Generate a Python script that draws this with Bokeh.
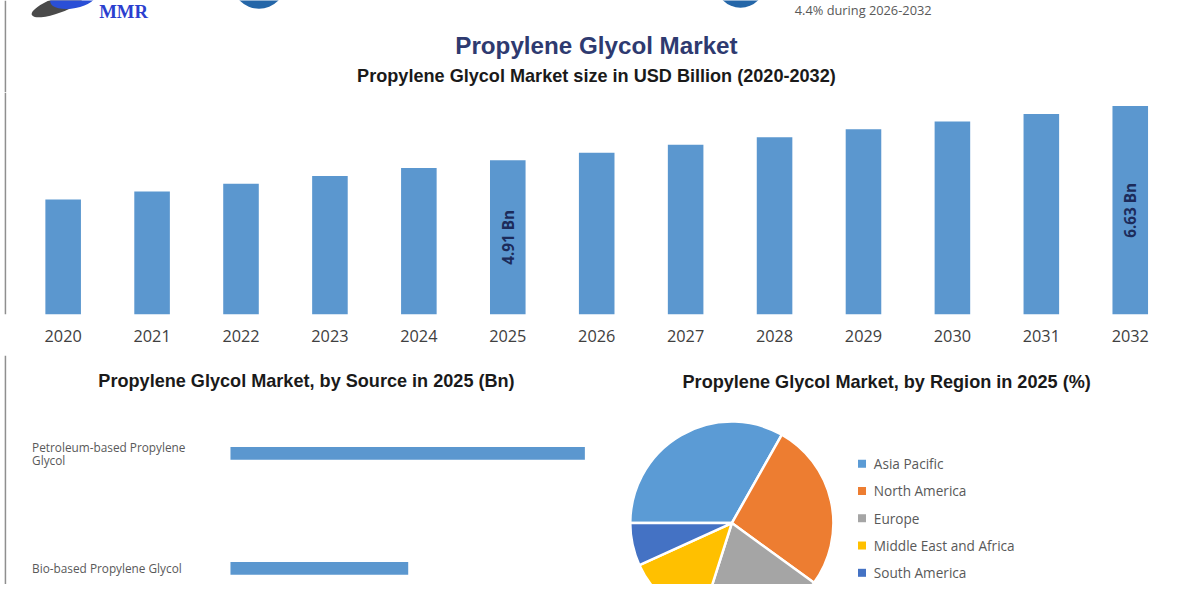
import math
from bokeh.plotting import figure
from bokeh.models import Range1d, FixedTicker, ColumnDataSource
from bokeh.layouts import column, row
from bokeh.core.properties import value
from bokeh.embed import file_html
from bokeh.resources import INLINE

# ---------------- data ----------------
years = ["2020", "2021", "2022", "2023", "2024", "2025", "2026",
         "2027", "2028", "2029", "2030", "2031", "2032"]
market_size = [3.66, 3.91, 4.16, 4.41, 4.66, 4.91, 5.15,
               5.40, 5.64, 5.89, 6.14, 6.38, 6.63]
bar_label_years = ["2025", "2032"]
bar_label_texts = ["4.91 Bn", "6.63 Bn"]

sources = ["Petroleum-based Propylene\nGlycol", "Bio-based Propylene Glycol"]
source_values = [3.27, 1.64]

regions = ["Asia Pacific", "North America", "Europe",
           "Middle East and Africa", "South America"]
region_share = [33.2, 26.8, 19.9, 13.3, 6.8]

# ---------------- styles ----------------
BLUE = "#5b97cf"
REGION_COLORS = ["#5b9bd5", "#ed7d31", "#a5a5a5", "#ffc000", "#4472c4"]
BORDER = "#8f8f8f"
W, H = 1184, 584
SX = W / 1200.0


def fs(px):
    return "%.1fpx" % (px * SX)


def blank(w, h, xr, yr, **kw):
    p = figure(width=w, height=h, x_range=xr, y_range=yr,
               output_backend="svg", toolbar_location=None,
               x_axis_location=None, y_axis_location=None,
               min_border=0, **kw)
    p.grid.visible = False
    p.outline_line_color = None
    p.background_fill_color = "white"
    p.border_fill_color = "white"
    return p


TITLE_FONT = value("Liberation Sans")

# ---------------- header ----------------
hdr = blank(W, 92, Range1d(0, 1200), Range1d(95, 0))
hdr.segment(x0=[5], y0=[0], x1=[5], y1=[95], line_color=BORDER, line_width=1.5)
hdr.ellipse(x=[58], y=[5], width=56, height=16, angle=0.35,
            fill_color="#4a4a4a", line_color=None)
hdr.ellipse(x=[74], y=[-3], width=48, height=22, angle=0.2,
            fill_color="#2a4fd6", line_color=None)
hdr.text(x=[100], y=[0.5], text=["MMR"], text_font=value("Liberation Serif"),
         text_font_style="bold", text_font_size=fs(19), text_color="#2b3fcf",
         text_baseline="top", text_align="left")
hdr.circle(x=[262, 750], y=[-19, -18], radius=[27, 25],
           fill_color="#2466a8", line_color=None)
hdr.text(x=[805], y=[0.5], text=["4.4% during 2026-2032"], text_font=value("Open Sans"),
         text_font_size=fs(13), text_color="#595959",
         text_baseline="top", text_align="left")
hdr.text(x=[604], y=[46], text=["Propylene Glycol Market"],
         text_font=TITLE_FONT, text_font_style="bold",
         text_font_size=fs(24.5), text_color="#2e3a70",
         text_align="center", text_baseline="middle")
hdr.text(x=[604], y=[78], text=["Propylene Glycol Market size in USD Billion (2020-2032)"],
         text_font=TITLE_FONT, text_font_style="bold",
         text_font_size=fs(18.3), text_color="#1a1a1a",
         text_align="center", text_baseline="middle")

# ---------------- bar chart ----------------
idx = list(range(len(years)))
bar = figure(width=W, height=263, x_range=Range1d(-0.7046, 12.61),
             y_range=Range1d(0, 7.063), output_backend="svg",
             toolbar_location=None, y_axis_location=None,
             min_border_left=0, min_border_right=0, min_border_top=0,
             min_border_bottom=41)
bar.grid.visible = False
bar.outline_line_color = None
bar.extra_x_ranges = {"px": Range1d(0, 1200)}
bar.segment(x0=[5], y0=[0], x1=[5], y1=[7.063], line_color=BORDER,
            line_width=1.5, x_range_name="px")
src_bars = ColumnDataSource(dict(x=idx, top=market_size))
bar.vbar(x="x", top="top", width=0.40, source=src_bars,
         fill_color=BLUE, line_color=None)
lab_i = [years.index(y) for y in bar_label_years]
bar.text(x=lab_i, y=[market_size[i] / 2.0 for i in lab_i], text=bar_label_texts,
         angle=math.pi / 2, text_align="center", text_baseline="middle",
         text_font=value("Open Sans"), text_font_style="bold",
         text_font_size=fs(15.5), text_color="#1c2b5a")
ax = bar.xaxis[0]
ax.ticker = FixedTicker(ticks=idx)
ax.major_label_overrides = {i: y for i, y in zip(idx, years)}
ax.axis_line_color = None
ax.major_tick_line_color = None
ax.minor_tick_line_color = None
ax.major_tick_out = 0
ax.major_tick_in = 0
ax.major_label_standoff = 15
ax.major_label_text_font = "Open Sans"
ax.major_label_text_font_size = fs(16.5)
ax.major_label_text_color = "#404040"

# ---------------- source (horizontal bars) ----------------
src = blank(612, 229, Range1d(-2.122, 3.525), Range1d(-0.1398, 1.8517))
src.extra_x_ranges = {"px": Range1d(0, 620)}
src.extra_y_ranges = {"py": Range1d(600, 365)}
src.segment(x0=[5], y0=[365], x1=[5], y1=[600], line_color=BORDER,
            line_width=1.5, x_range_name="px", y_range_name="py")
src_y = list(range(len(sources)))[::-1]
src.hbar(y=src_y, left=0, right=source_values, height=0.11,
         fill_color=BLUE, line_color=None)
src.text(x=[32] * len(sources), y=src_y, text=sources, x_range_name="px",
         text_align="left", text_baseline="middle",
         text_font=value("Open Sans"), text_font_size=fs(12),
         text_color="#595959", text_line_height=0.85)
src.text(x=[310], y=[391], text=["Propylene Glycol Market, by Source in 2025 (Bn)"],
         x_range_name="px", y_range_name="py",
         text_align="center", text_baseline="middle",
         text_font=TITLE_FONT, text_font_style="bold",
         text_font_size=fs(18.3), text_color="#1a1a1a")

# ---------------- region pie ----------------
pie = blank(572, 229, Range1d(620, 1200), Range1d(-600, -365))
starts, ends = [], []
cum = 0.0
for s in region_share:
    starts.append(math.pi - 2 * math.pi * cum / 100.0)
    cum += s
    ends.append(math.pi - 2 * math.pi * cum / 100.0)
pie_src = ColumnDataSource(dict(start=starts, end=ends, color=REGION_COLORS, region=regions))
pie.wedge(x=741, y=-537, radius=103, start_angle="start", end_angle="end",
          direction="clock", fill_color="color", line_color="white",
          line_width=2.5, source=pie_src)
leg_y = [-476 - 28.0 * i for i in range(len(regions))]
pie.scatter(x=[873] * len(regions), y=leg_y, marker="square", size=8,
            fill_color=REGION_COLORS, line_color=None)
pie.text(x=[885] * len(regions), y=leg_y, text=regions,
         text_align="left", text_baseline="middle",
         text_font=value("Open Sans"), text_font_size=fs(13.8),
         text_color="#595959")
pie.text(x=[898], y=[-392], text=["Propylene Glycol Market, by Region in 2025 (%)"],
         text_align="center", text_baseline="middle",
         text_font=TITLE_FONT, text_font_style="bold",
         text_font_size=fs(18.3), text_color="#1a1a1a")

layout = column(hdr, bar, row(src, pie, spacing=0), spacing=0)
open("out.html", "w").write(file_html(layout, INLINE))
